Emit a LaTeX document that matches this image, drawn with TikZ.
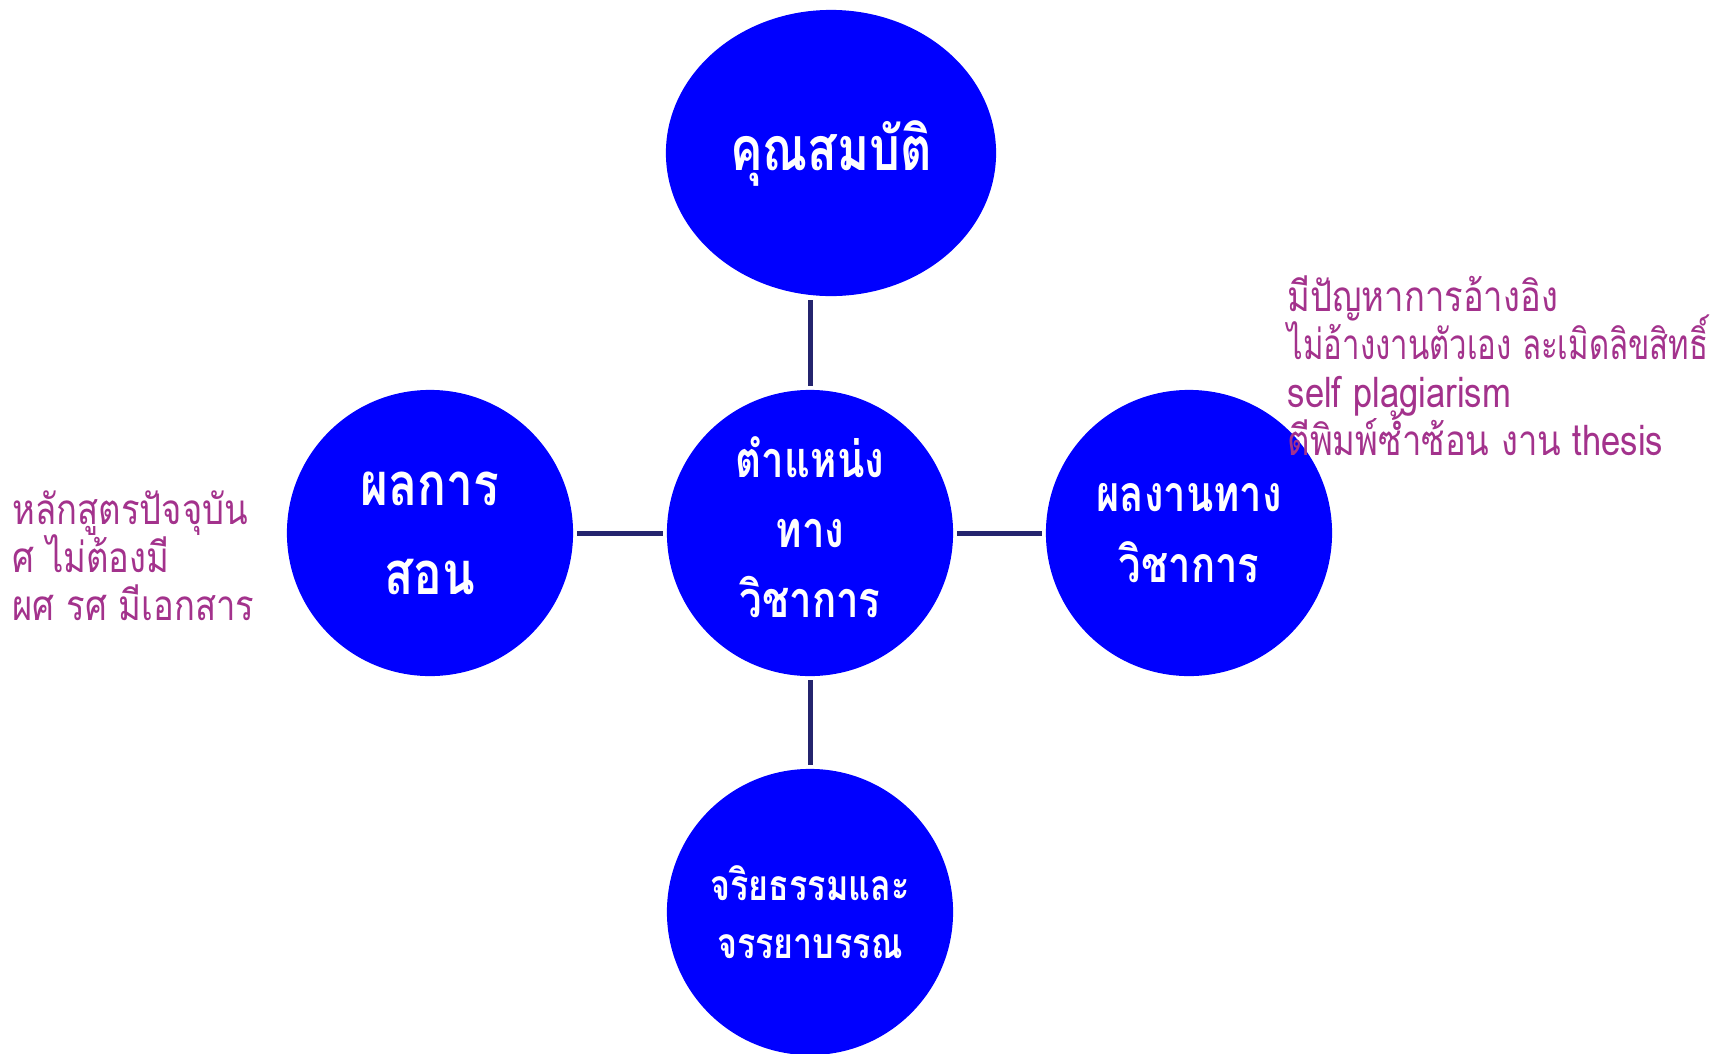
\documentclass[tikz,border=0pt]{standalone}
\usepackage{fontspec}
\usepackage{graphicx}
\newfontfamily\thaifont[Script=Thai, FakeStretch=0.82]{Loma}
\newfontfamily\topicfont[Script=Thai, FakeStretch=0.8]{Loma}
\usetikzlibrary{shapes.geometric}
\definecolor{topicblue}{RGB}{0,0,255}
\definecolor{linknavy}{RGB}{36,36,110}
\definecolor{notepurple}{RGB}{163,50,140}
\newcommand\tightlines{\setlength{\lineskiplimit}{-20pt}}

\begin{document}
\begin{tikzpicture}[x=0.01cm, y=-0.01cm,
  topic/.style 2 args={circle, fill=topicblue, minimum size=2.86cm, inner sep=0pt, text=white,
    align=center, font=\topicfont\bfseries\fontsize{#1}{#2}\selectfont\tightlines},
  link/.style={draw=linknavy, line width=0.05cm, shorten <=0.035cm, shorten >=0.035cm},
  note/.style={text=notepurple, align=left, inner sep=0pt, anchor=north west,
    font=\thaifont\fontsize{12}{13.7}\selectfont\tightlines}]
  \useasboundingbox (0,0) rectangle (1723,1054);

  % the five topics
  \node[topic={14.3}{19.9}] (pos) at (810,533) {ตำแหน่ง\\ทาง\\วิชาการ\\[-16.5pt]};
  \node[topic={17.3}{20}, ellipse, minimum width=3.30cm, minimum height=2.86cm] (quali) at (831,153) {คุณสมบัติ};
  \node[topic={17}{25.3}] (teach) at (430,533) {ผลการ\\สอน};
  \node[topic={14.2}{20.2}] (work) at (1189,533) {ผลงานทาง\\วิชาการ};
  \node[topic={12.1}{16.5}] (ethic) at (810,912) {จริยธรรมและ\\จรรยาบรรณ};

  % links to the middle
  \draw[link] (pos.north) -- (pos.north |- quali.south);
  \draw[link] (pos) -- (teach);
  \draw[link] (pos) -- (work);
  \draw[link] (pos) -- (ethic);

  % side notes
  \node[note] (note-teach) at (12,490) {หลักสูตรปัจจุบัน\\ศ ไม่ต้องมี\\ผศ รศ มีเอกสาร};
  \node[note] (note-work) at (1287,275) {มีปัญหาการอ้างอิง\\\scalebox{0.9}[1]{ไม่อ้างงานตัวเอง ละเมิดลิขสิทธิ์}\\self plagiarism\\ตีพิมพ์ซ้ำซ้อน งาน thesis};
\end{tikzpicture}
\end{document}
